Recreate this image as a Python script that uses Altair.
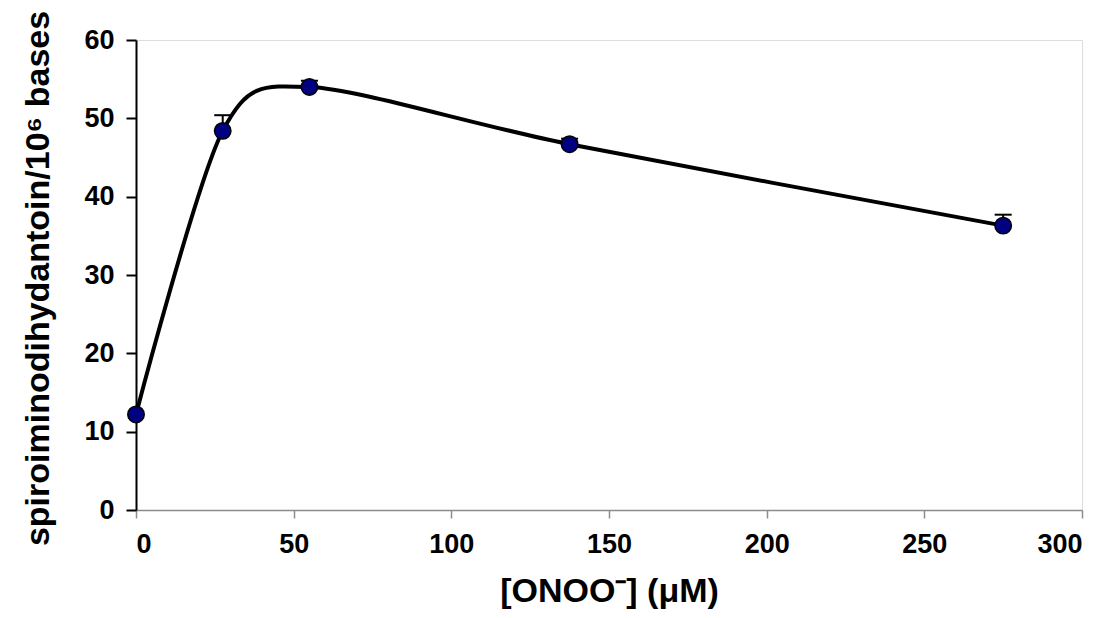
import altair as alt
import pandas as pd

# Data
conc = [0, 27.5, 55, 137.5, 275]
value = [12.2, 48.4, 54.0, 46.7, 36.3]
upper = [12.2, 50.4, 54.8, 47.4, 37.7]

x_ticks = [0, 50, 100, 150, 200, 250, 300]
y_ticks = [0, 10, 20, 30, 40, 50, 60]

df = pd.DataFrame({"conc": conc, "value": value, "upper": upper})
err_df = df[df["upper"] > df["value"]]

FONT = "Liberation Sans"
W, H = 946, 470

x_enc = alt.X(
    "conc:Q",
    scale=alt.Scale(domain=[0, 300], nice=False, zero=False),
    axis=alt.Axis(
        values=x_ticks,
        title="[ONOO⁻] (μM)",
        titleFont=FONT, titleFontSize=34, titleFontWeight="bold", titleColor="black",
        titleX=W / 2, titleY=91, titleAlign="center", titleBaseline="alphabetic",
        labelFont=FONT, labelFontSize=27, labelFontWeight="bold", labelColor="black",
        labelPadding=13,
        domainColor="#8c8c8c", domainWidth=1.5,
        tickColor="#8c8c8c", tickWidth=1.5, tickSize=8,
        grid=False,
    ),
)

y_axis = alt.Axis(
    values=y_ticks,
    title="spiroiminodihydantoin/10⁶ bases",
    titleFont=FONT, titleFontSize=34, titleFontWeight="bold", titleColor="black",
    titleAngle=270, titleX=-88, titleY=H / 2 + 3, titleAlign="center", titleBaseline="alphabetic",
    labelFont=FONT, labelFontSize=27, labelFontWeight="bold", labelColor="black",
    labelPadding=12,
    domainColor="black", domainWidth=2,
    tickColor="black", tickWidth=2, tickSize=10,
    grid=False,
)
y_scale = alt.Scale(domain=[0, 60], nice=False)

base = alt.Chart(df)

line = base.mark_line(interpolate="cardinal", tension=0.15, color="black", strokeWidth=4).encode(
    x=x_enc,
    y=alt.Y("value:Q", scale=y_scale, axis=y_axis),
)

err_rule = alt.Chart(err_df).mark_rule(color="black", strokeWidth=2).encode(
    x="conc:Q",
    y="value:Q",
    y2="upper:Q",
)

err_cap = alt.Chart(err_df).mark_tick(
    color="black", thickness=2, size=17, orient="horizontal", opacity=1
).encode(
    x="conc:Q",
    y="upper:Q",
)

points = base.mark_point(
    shape="circle", filled=True, size=270, fill="#000080", stroke="black",
    strokeWidth=1.5, opacity=1
).encode(
    x="conc:Q",
    y="value:Q",
)

chart = (
    alt.layer(line, err_rule, err_cap, points)
    .properties(
        width=W,
        height=H,
        autosize=alt.AutoSizeParams(type="none"),
        padding={"left": 128, "top": 32, "right": 20, "bottom": 100},
    )
    .configure_view(stroke=None)
    .configure(background="white")
)

chart.save("out.html", embed_options={"renderer": "svg", "actions": False})
